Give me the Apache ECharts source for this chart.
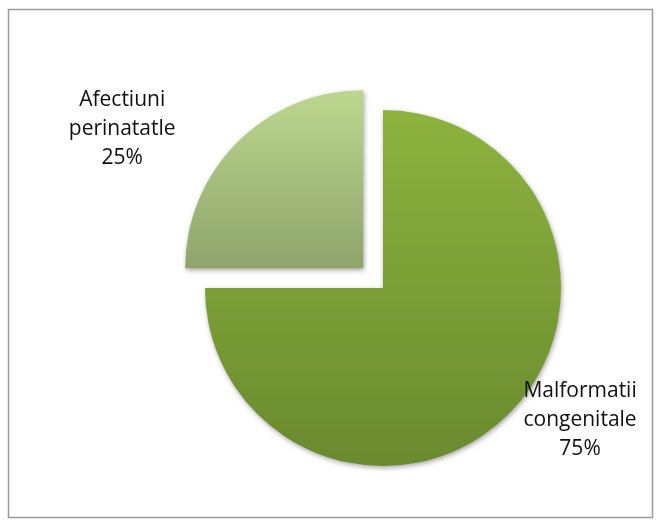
<!DOCTYPE html>
<html>
<head>
<meta charset="utf-8">
<script src="https://cdn.jsdelivr.net/npm/echarts@6/dist/echarts.min.js"></script>
<style>html,body{margin:0;padding:0;background:#fff;}#c{width:659px;height:524px;}</style>
</head>
<body>
<div id="c"></div>
<script>
const categories = ['Malformatii\ncongenitale', 'Afectiuni\nperinatatle'];
const values = [75, 25];
const percentLabels = ['75%', '25%'];

const gradients = [
  ['#8db33e', '#6a8a2e'],
  ['#bdd78f', '#8ea46b']
];
const labelOffsets = [[132, 67], [-152, -50]];

function labelFor(i) {
  return {
    show: true,
    position: 'inside',
    offset: labelOffsets[i],
    formatter: categories[i] + '\n' + percentLabels[i],
    fontFamily: 'Open Sans',
    fontSize: 21,
    lineHeight: 29,
    color: '#111',
    align: 'center',
    verticalAlign: 'middle'
  };
}

const chart = echarts.init(document.getElementById('c'));
chart.setOption({
  animation: false,
  graphic: [{
    type: 'rect',
    shape: {x: 8.5, y: 9.5, width: 644, height: 508},
    style: {fill: 'none', stroke: '#9a9a9a', lineWidth: 1.5},
    silent: true
  }],
  series: [{
    type: 'pie',
    center: [383, 288],
    radius: 178,
    startAngle: 90,
    clockwise: true,
    selectedMode: 'single',
    selectedOffset: 28,
    emphasis: {disabled: true},
    labelLine: {show: false},
    data: values.map((v, i) => {
      const itemStyle = {
        color: new echarts.graphic.LinearGradient(0, 0, 0, 1, [
          {offset: 0, color: gradients[i][0]},
          {offset: 1, color: gradients[i][1]}
        ]),
        shadowBlur: 5,
        shadowColor: 'rgba(0,0,0,0.35)',
        shadowOffsetX: 1,
        shadowOffsetY: 2
      };
      return {
        value: v,
        name: categories[i],
        selected: i === 1,
        label: labelFor(i),
        itemStyle: itemStyle,
        select: {label: labelFor(i), itemStyle: itemStyle}
      };
    })
  }]
});
</script>
</body>
</html>
